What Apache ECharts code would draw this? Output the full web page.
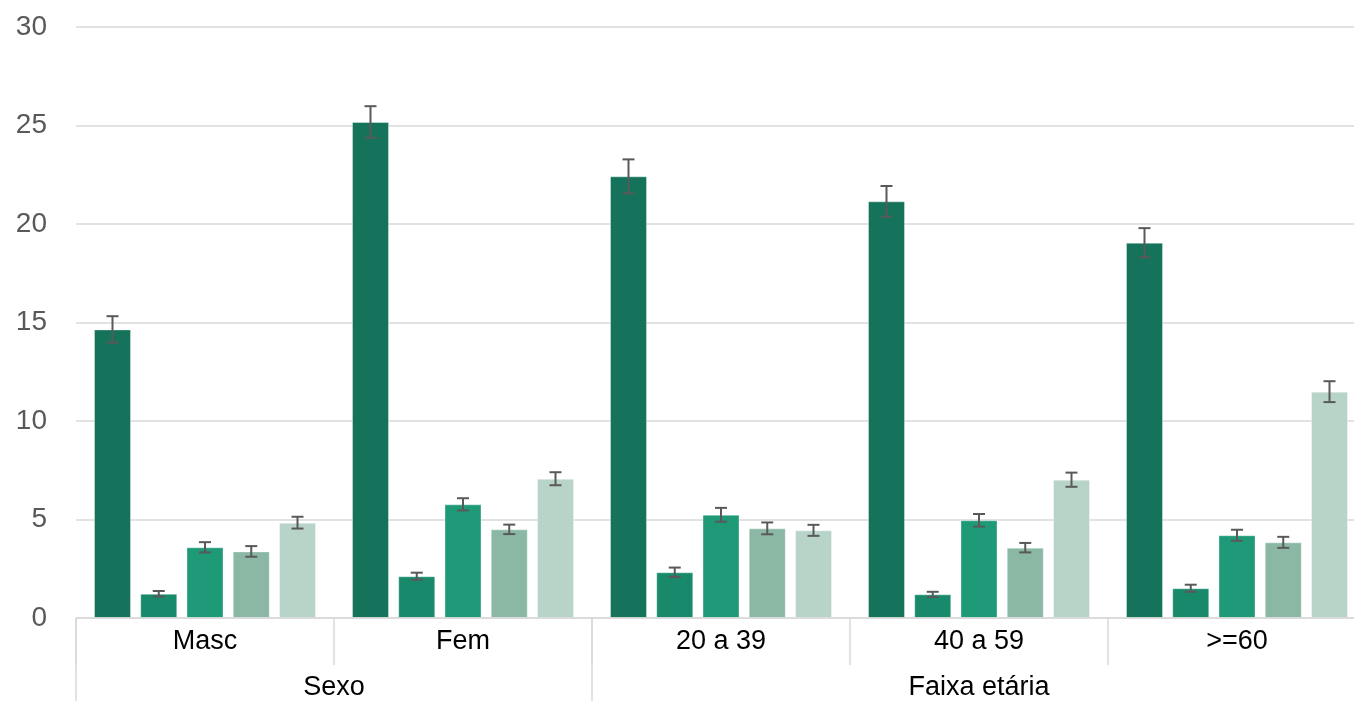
<!DOCTYPE html>
<html>
<head>
<meta charset="utf-8">
<script src="https://cdn.jsdelivr.net/npm/echarts@6/dist/echarts.min.js"></script>
<style>
html,body{margin:0;padding:0;background:#fff;overflow:hidden;}
#chart{width:1354px;height:701px;}
</style>
</head>
<body>
<div id="chart"></div>
<script>
// Categories (inner level) and outer groups
const categories = ['Masc', 'Fem', '20 a 39', '40 a 59', '>=60'];
const groupNames = ['Sexo', 'Faixa etária'];
const groupSpans = [[0, 2], [2, 5]]; // category index ranges [from, to)

// Series values (one array per bar series)
const s1 = [14.65, 25.18, 22.42, 21.15, 19.05];
const s2 = [1.23, 2.12, 2.32, 1.20, 1.51];
const s3 = [3.59, 5.77, 5.24, 4.96, 4.20];
const s4 = [3.38, 4.50, 4.55, 3.57, 3.84];
const s5 = [4.84, 7.07, 4.45, 7.02, 11.49];

// Error margins (±) per series
const e1 = [0.67, 0.80, 0.86, 0.78, 0.74];
const e2 = [0.14, 0.18, 0.24, 0.13, 0.18];
const e3 = [0.26, 0.31, 0.35, 0.32, 0.28];
const e4 = [0.27, 0.24, 0.30, 0.24, 0.28];
const e5 = [0.30, 0.33, 0.28, 0.36, 0.53];

const yTicks = [0, 5, 10, 15, 20, 25, 30];

const seriesValues = [s1, s2, s3, s4, s5];
const seriesErrors = [e1, e2, e3, e4, e5];
const colors = ['#14735A', '#188A6B', '#1F9A78', '#8AB8A5', '#B8D3C8'];

const BAR_W = 37;
const GAP = 0.25;

const chart = echarts.init(document.getElementById('chart'), null, {renderer: 'canvas'});

const series = [];
seriesValues.forEach((vals, i) => {
  series.push({
    type: 'bar',
    name: 'S' + (i + 1),
    data: vals,
    barWidth: BAR_W,
    barGap: (GAP * 100) + '%',
    itemStyle: {color: colors[i], borderColor: 'rgba(255,255,255,0.35)', borderWidth: 1},
    silent: true,
    z: 2
  });
});

// Error bars via custom series, offset to each bar's slot
seriesValues.forEach((vals, i) => {
  const nSeries = seriesValues.length;
  const total = nSeries * BAR_W + (nSeries - 1) * BAR_W * GAP;
  const offset = -total / 2 + BAR_W / 2 + i * BAR_W * (1 + GAP);
  series.push({
    type: 'custom',
    name: 'err' + (i + 1),
    silent: true,
    z: 5,
    data: vals.map((v, k) => [k, v - seriesErrors[i][k], v + seriesErrors[i][k]]),
    renderItem: function (params, api) {
      const lo = api.coord([api.value(0), api.value(1)]);
      const hi = api.coord([api.value(0), api.value(2)]);
      const x = lo[0] + offset;
      const half = 6;
      const style = {stroke: '#595959', lineWidth: 2};
      return {
        type: 'group',
        children: [
          {type: 'line', shape: {x1: x, y1: hi[1], x2: x, y2: lo[1]}, style: style},
          {type: 'line', shape: {x1: x - half, y1: hi[1], x2: x + half, y2: hi[1]}, style: style},
          {type: 'line', shape: {x1: x - half, y1: lo[1], x2: x + half, y2: lo[1]}, style: style}
        ]
      };
    }
  });
});

const option = {
  animation: false,
  grid: {left: 76, width: 1290, top: 27, bottom: 83, containLabel: false, outerBoundsMode: 'none'},
  xAxis: {
    type: 'category',
    data: categories,
    axisLine: {show: true, lineStyle: {color: '#d9d9d9', width: 1.5}},
    axisTick: {show: true, length: 47, interval: 0, lineStyle: {color: '#d9d9d9', width: 1.5}},
    axisLabel: {fontSize: 27, color: '#000', margin: 10, fontFamily: 'Liberation Sans', interval: 0},
    z: 3
  },
  yAxis: {
    type: 'value',
    min: yTicks[0],
    max: yTicks[yTicks.length - 1],
    interval: yTicks[1] - yTicks[0],
    axisLine: {show: false},
    axisTick: {show: false},
    axisLabel: {fontSize: 28, color: '#595959', margin: 29, fontFamily: 'Liberation Sans'},
    splitLine: {lineStyle: {color: '#d9d9d9', width: 1.5}}
  },
  series: series
};

chart.setOption(option);

// Outer group labels and separators, positioned through the axis scale
function drawGroups() {
  const graphics = [];
  const H = chart.getHeight();
  const zeroY = chart.convertToPixel({yAxisIndex: 0}, 0);
  groupSpans.forEach((span, gi) => {
    const xFrom = chart.convertToPixel({xAxisIndex: 0}, span[0]) ;
    const xTo = chart.convertToPixel({xAxisIndex: 0}, span[1] - 1);
    const cw = (chart.convertToPixel({xAxisIndex: 0}, 1) - chart.convertToPixel({xAxisIndex: 0}, 0));
    const left = xFrom - cw / 2;
    const right = xTo + cw / 2;
    graphics.push({
      type: 'line',
      shape: {x1: left, y1: zeroY, x2: left, y2: H},
      style: {stroke: '#d9d9d9', lineWidth: 1.5},
      silent: true
    });
    graphics.push({
      type: 'text',
      x: (left + right) / 2,
      y: 688,
      style: {
        text: groupNames[gi],
        fontSize: 27,
        fontFamily: 'Liberation Sans',
        fill: '#000',
        align: 'center',
        verticalAlign: 'middle'
      },
      silent: true
    });
  });
  chart.setOption({graphic: graphics});
}
drawGroups();
</script>
</body>
</html>
